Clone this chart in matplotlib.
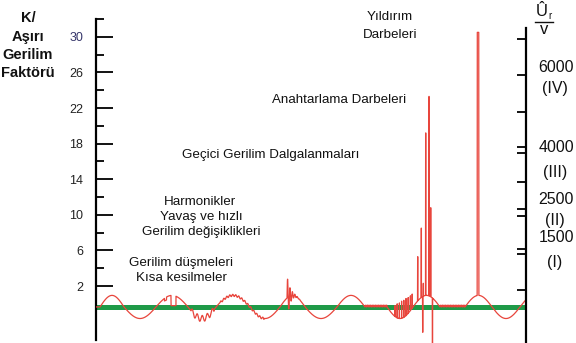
import numpy as np
import matplotlib.pyplot as plt

plt.rcParams['font.family'] = ['Liberation Sans', 'DejaVu Sans']

# left scale: overvoltage factor K
k_major = [2, 6, 10, 14, 18, 22, 26, 30]
k_minor = [4, 8, 12, 16, 20, 24, 28, 32]

# right scale: rated impulse voltage classes (tick marks read in K units)
ur_ticks = [1.6, 5.6, 6.2, 9.9, 10.7, 13.7, 17.0, 17.6, 21.6, 25.7, 29.8]
ur_values = ['6000', '4000', '2500', '1500']
ur_classes = ['(IV)', '(III)', '(II)', '(I)']

# mains wave: half-cycle edges along the time axis and their polarity (0 = flat)
baseline = -0.35
amp = 1.3
half_edges = [4, 28, 60, 92, 120, 154, 184, 209, 241, 269, 291, 317, 344, 369, 396, 424, 452]
half_sign = [1, -1, 1, -1, 1, -1, 1, -1, 1, 0, -1, 1, 0, 1, -1, 1]

# voltage dip / short interruption
dip_start, dip_end, dip_level = 75, 80, -0.2
# notching comb before the switching impulses
comb_x = [299, 301.2, 303.4, 305.6, 307.8, 310, 312.2, 314.4, 316.2]
comb_top = [-0.2, 0.0, 0.1, 0.3, 0.4, 0.6, 0.7, 0.9, 1.1]
# switching impulses
switch_x = [321.7, 325.3, 327.3, 329.7, 333.0, 334.7, 326.7, 336.5]
switch_peak = [5.3, 8.5, 2.3, 19.2, 23.3, 10.8, -3.2, -5.5]
# lightning impulse
lightning_x = 382
lightning_peak = 30.5

W, H = 576, 343
fig = plt.figure(figsize=(W / 100, H / 100), dpi=100)
ax = fig.add_axes([96 / W, 0, 430 / W, (H - 19) / H])

t = np.arange(0, 452, 0.05)
v = np.full_like(t, baseline)
for a, b, s in zip(half_edges[:-1], half_edges[1:], half_sign):
    m = (t >= a) & (t < b)
    v[m] = baseline + s * amp * np.sin(np.pi * (t[m] - a) / (b - a))

# dip
v[(t >= dip_start) & (t < dip_end)] = dip_level
m = (t >= 68.5) & (t < 70.5)
v[m] = baseline + 0.7 * (v[m] - baseline)
# harmonics on the trough
m = (t >= 95) & (t < 118)
v[m] += 0.35 * np.sin(2 * np.pi * (t[m] - 95) / 5)
# fast fluctuations
m = (t >= 124) & (t < 168)
v[m] += 0.12 * np.sin(2 * np.pi * (t[m] - 124) / 3)
# oscillatory transient
m = (t >= 191) & (t < 204)
v[m] += 2.5 * np.exp(-(t[m] - 191) / 3) * np.sin(2 * np.pi * (t[m] - 191) / 2.4)
# small ripple on flat parts
for a, b in [(269, 291), (344, 369)]:
    m = (t >= a) & (t < b)
    v[m] += 0.2 * np.abs(np.sin(np.pi * (t[m] - a) / 1.6))

for x0, top in zip(comb_x, comb_top):
    v[np.argmin(np.abs(t - x0))] = top
for x0, top in zip(switch_x, switch_peak):
    v[np.abs(t - x0) < 0.15] = top
v[np.abs(t - lightning_x) < 0.8] = lightning_peak

ax.axhline(baseline, color='#1f9a48', lw=3.6, zorder=2)
ax.plot(t, v, color='#e8453c', lw=0.9, zorder=3)

ax.set_xlim(0, 430)
ax.set_ylim(-4.4, 32)
ax.set_xticks([])
for s in ['top', 'bottom', 'right']:
    ax.spines[s].set_visible(False)
ax.spines['left'].set_linewidth(1.6)
ax.spines['left'].set_bounds(-4.07, 32)
ax.set_yticks(k_major)
ax.set_yticklabels([str(k) for k in k_major])
ax.set_yticks(k_minor, minor=True)
ax.tick_params(axis='y', which='major', direction='in', length=12, width=1.3,
               pad=9.4, labelsize=9, labelcolor='#222222')
ax.tick_params(axis='y', which='minor', direction='in', length=6, width=1.3)
ax.get_yticklabels()[-1].set_color('#35356a')

ax2 = ax.twinx()
ax2.set_ylim(-4.4, 32)
ax2.set_yticks(ur_ticks)
ax2.tick_params(axis='y', direction='in', length=6.5, width=1.3, labelright=False)
for s in ['top', 'bottom', 'left']:
    ax2.spines[s].set_visible(False)
ax2.spines['right'].set_linewidth(1.6)
ax2.spines['right'].set_bounds(-4.4, 31)


def ftext(x, y, s, **kw):
    fig.text(x / W, 1 - y / H, s, ha='center', va='center', **kw)


for y, s in zip([18, 37, 55, 73], ['K/', 'Aşırı', 'Gerilim', 'Faktörü']):
    ftext(28, y, s, fontsize=10.5, fontweight='bold', color='#111111')

labels = [
    (390, 17, 'Yıldırım'), (390, 35, 'Darbeleri'),
    (339, 100, 'Anahtarlama Darbeleri'),
    (271, 155, 'Geçici Gerilim Dalgalanmaları'),
    (200, 202, 'Harmonikler'), (201, 217, 'Yavaş ve hızlı'),
    (201, 232, 'Gerilim değişiklikleri'),
    (181, 263, 'Gerilim düşmeleri'), (181, 278, 'Kısa kesilmeler'),
]
for x, y, s in labels:
    ftext(x, y, s, fontsize=9.6, color='#111111')

for val, cls, yv, yc in zip(ur_values, ur_classes, [67, 147, 200, 237], [88, 172, 220, 263]):
    ftext(556, yv, val, fontsize=11.5, color='#111111')
    ftext(555, yc, cls, fontsize=11.5, color='#111111')

ftext(542, 12, 'Û', fontsize=12, color='#111111')
ftext(550, 16, 'r', fontsize=7, color='#111111')
fig.add_artist(plt.Line2D([535 / W, 553 / W], [1 - 22 / H, 1 - 22 / H], color='#111111', lw=1))
ftext(544, 30, 'v', fontsize=12, color='#111111')

fig.savefig('out.png', dpi=100)
